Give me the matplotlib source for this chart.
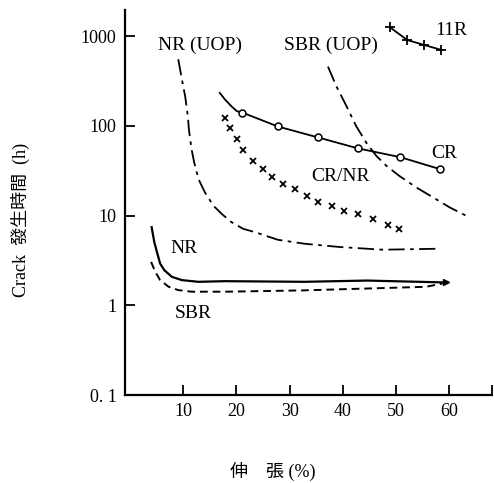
import numpy as np
import matplotlib.pyplot as plt

# elongation (%) vs crack appearance time (h)
nr_uop_x = [9.1, 9.8, 10.4, 10.9, 11.1, 11.6, 12.1, 12.9, 14.1, 15.7, 17.3,
            19.1, 21.3, 23.5, 27.8, 32.8, 39.4, 47.5, 58.1]
nr_uop_y = [553, 326, 213, 128, 91, 54.8, 39.0, 25.5, 18.2, 12.9, 10.4,
            8.45, 7.12, 6.55, 5.38, 4.86, 4.47, 4.17, 4.28]

sbr_uop_x = [37.2, 38.8, 40.7, 42.5, 44.4, 46.3, 48.2, 50.6, 53.8, 56.9,
             60.0, 63.1]
sbr_uop_y = [458, 275, 165, 99.3, 65.0, 46.2, 35.8, 27.7, 20.6, 16.0,
             12.4, 10.0]

cr_x = [16.9, 17.9, 19.1, 20.1, 21.1, 27.8, 35.3, 42.8, 50.8, 58.3]
cr_y = [233, 196, 165, 146, 141, 98.5, 74.5, 56.2, 44.8, 32.9]
cr_marked = [4, 5, 6, 7, 8, 9]

crnr_x = [17.9, 18.8, 20.1, 21.2, 23.1, 25.0, 26.7, 28.7, 31.0, 33.2,
          35.3, 37.9, 40.3, 42.8, 45.6, 48.4, 50.6]
crnr_y = [124, 93.6, 70.7, 53.4, 40.3, 32.9, 26.8, 22.5, 19.8, 16.5,
          14.2, 12.8, 11.3, 10.4, 9.2, 7.9, 7.1]

r11_x = [48.8, 52.1, 55.3, 58.5]
r11_y = [1260, 905, 797, 702]

nr_x = [4.1, 4.6, 5.1, 5.7, 6.5, 7.9, 9.8, 12.9, 17.9, 32.8, 44.5, 59.4]
nr_y = [7.44, 5.08, 3.93, 2.92, 2.46, 2.08, 1.91, 1.83, 1.86, 1.83, 1.89,
        1.80]

sbr_x = [4.0, 4.8, 5.7, 7.3, 9.1, 11.6, 17.9, 24.1, 32.8, 44.4, 55.6, 58.7]
sbr_y = [3.05, 2.36, 1.91, 1.61, 1.48, 1.42, 1.42, 1.44, 1.47, 1.54, 1.61,
         1.75]

xticks = [10, 20, 30, 40, 50, 60]
yticks = [0.1, 1, 10, 100, 1000]
ytick_labels = ['0. 1', '1', '10', '100', '1000']

serif = ['Liberation Serif', 'DejaVu Serif']
cjk = ['Liberation Serif', 'Noto Sans CJK JP', 'Noto Sans CJK TC']

fig = plt.figure(figsize=(4.94, 4.83), dpi=100)
ax = fig.add_axes([0.253, 0.182, 0.743, 0.797])

k = 'black'
ax.plot(nr_uop_x, nr_uop_y, color=k, lw=1.3, linestyle=(0, (9, 3, 2, 3)))
ax.plot(sbr_uop_x, sbr_uop_y, color=k, lw=1.3, linestyle=(0, (9, 3, 2, 3)))
ax.plot(cr_x, cr_y, color=k, lw=1.3, marker='o', ms=5, mfc='white',
        mew=1.1, markevery=cr_marked)
ax.plot(crnr_x, crnr_y, color=k, lw=0, marker='x', ms=5, mew=1.3)
ax.plot(r11_x, r11_y, color=k, lw=1.3, marker='+', ms=7, mew=1.3)
ax.plot(nr_x, nr_y, color=k, lw=1.6, marker='>', ms=5, markevery=[-1])
ax.plot(sbr_x, sbr_y, color=k, lw=1.4, linestyle=(0, (4, 2.5)))

ax.set_yscale('log')
ax.set_xlim(-0.9, 68)
ax.set_ylim(0.1, 1950)

ax.set_xticks(xticks + [68])
ax.set_xticklabels([str(t) for t in xticks] + [''], fontfamily=serif,
                   fontsize=13)
ax.set_yticks(yticks)
ax.set_yticklabels(ytick_labels, fontfamily=serif, fontsize=13)
ax.minorticks_off()
ax.tick_params(axis='both', direction='in', length=7, width=1.3, pad=6)

for s in ['top', 'right']:
    ax.spines[s].set_visible(False)
for s in ['left', 'bottom']:
    ax.spines[s].set_linewidth(1.6)

lab = dict(fontfamily=serif, fontsize=14, ha='center', va='center')
ax.text(13.2, 800, 'NR (UOP)', **lab)
ax.text(37.7, 800, 'SBR (UOP)', **lab)
ax.text(60.4, 1150, '11R', **lab)
ax.text(59.1, 49, 'CR', **lab)
ax.text(39.6, 27.5, 'CR/NR', **lab)
ax.text(10.2, 4.3, 'NR', **lab)
ax.text(11.9, 0.82, 'SBR', **lab)

fig.text(20 / 494, 1 - 220 / 483, 'Crack  發生時間  (h)', rotation=90,
         ha='center', va='center', fontsize=13, family=cjk)
fig.text(273 / 494, 1 - 471 / 483, '伸\u3000張 (%)', ha='center',
         va='center', fontsize=13, family=cjk)

fig.savefig('out.png', dpi=100)
